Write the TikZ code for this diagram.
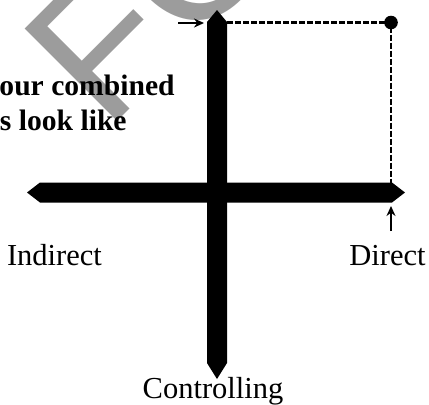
\documentclass[tikz,border=0pt]{standalone}
\usepackage{fontspec}
\setmainfont{Liberation Serif}
\newfontfamily\wmfont{Liberation Sans}
\usetikzlibrary{arrows.meta}
\definecolor{wmgray}{HTML}{9C9C9C}
\definecolor{inkblack}{HTML}{000000}

\begin{document}
\begin{tikzpicture}[>=Stealth,x=0.5pt,y=-0.5pt,
  axislabel/.style={font=\fontsize{15.25}{18}\selectfont,inner sep=0pt},
  headtext/.style={font=\bfseries\fontsize{14.8}{18}\selectfont,inner sep=0pt,anchor=base east},
  guide/.style={inkblack,line width=1.3pt,dash pattern=on 3pt off 1pt},
  pointer/.style={inkblack,line width=1pt,-{Stealth[length=5pt,width=4.5pt]}}]

  \useasboundingbox (0,0) rectangle (429,404);
  \clip (0,0) rectangle (429,404);

  \def\xc{217}    % vertical axis centre
  \def\yc{192.5}  % horizontal axis centre
  \def\hw{10}     % half bar width

  % watermark (behind everything)
  \node[wmgray,font=\wmfont\fontsize{95}{100}\selectfont,rotate=45,
        anchor=base west,inner sep=0pt] (wmark) at (106,133) {FO};

  % heading, cut off at the left edge
  \node[headtext] (head1) at (175,95) {our combined};
  \node[headtext] (head2) at (127,130) {s look like};

  % vertical axis bar, both ends pointed
  \fill[inkblack] (\xc-\hw,22) -- (\xc,10) -- (\xc+\hw,22)
        -- (\xc+\hw,363) -- (\xc,379) -- (\xc-\hw,363) -- cycle;

  % horizontal axis bar, both ends pointed
  \fill[inkblack] (27,\yc) -- (40,\yc-\hw) -- (392,\yc-\hw)
        -- (405,\yc) -- (392,\yc+\hw) -- (40,\yc+\hw) -- cycle;

  % combined point and its guide lines
  \coordinate (vbar) at (\xc+\hw,22.5);
  \coordinate (hbar) at (391,\yc-\hw);
  \node[circle,fill=inkblack,inner sep=0pt,minimum size=6.8pt] (peak) at (391,22.5) {};
  \draw[guide] (vbar) -- (peak.center) -- (hbar);

  % small pointers
  \coordinate (ptrAs) at (178,23);
  \coordinate (ptrAe) at (204,23);
  \draw[pointer] (ptrAs) -- (ptrAe);
  \coordinate (ptrBs) at (391,231);
  \coordinate (ptrBe) at (391,206);
  \draw[pointer] (ptrBs) -- (ptrBe);

  % axis labels
  \node[axislabel,anchor=base] (indirect) at (54.5,265) {Indirect};
  \node[axislabel,anchor=base] (direct) at (387.5,265) {Direct};
  \node[axislabel,anchor=base] (controlling) at (213,398) {Controlling};

\end{tikzpicture}
\end{document}
